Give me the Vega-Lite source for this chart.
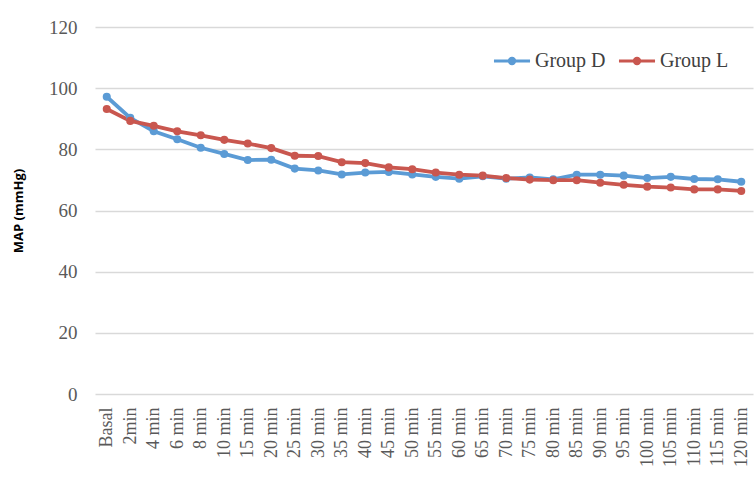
{
  "$schema": "https://vega.github.io/schema/vega-lite/v6.json",
  "width": 658,
  "height": 367,
  "autosize": {"type": "none"},
  "padding": {"left": 95, "top": 27, "right": 2, "bottom": 90},
  "background": "white",
  "config": {
    "view": {"stroke": null},
    "axis": {
      "labelFont": "Liberation Serif",
      "labelColor": "#595959",
      "gridColor": "#d9d9d9",
      "gridWidth": 1.5,
      "domain": false,
      "ticks": false
    }
  },
  "data": {
    "values": [
      {"time": "Basal", "group": "Group D", "map": 97.2},
      {"time": "2min", "group": "Group D", "map": 90.3},
      {"time": "4 min", "group": "Group D", "map": 85.9},
      {"time": "6 min", "group": "Group D", "map": 83.3},
      {"time": "8 min", "group": "Group D", "map": 80.5},
      {"time": "10 min", "group": "Group D", "map": 78.5},
      {"time": "15 min", "group": "Group D", "map": 76.5},
      {"time": "20 min", "group": "Group D", "map": 76.6},
      {"time": "25 min", "group": "Group D", "map": 73.7},
      {"time": "30 min", "group": "Group D", "map": 73.1},
      {"time": "35 min", "group": "Group D", "map": 71.8},
      {"time": "40 min", "group": "Group D", "map": 72.4},
      {"time": "45 min", "group": "Group D", "map": 72.6},
      {"time": "50 min", "group": "Group D", "map": 71.8},
      {"time": "55 min", "group": "Group D", "map": 71.0},
      {"time": "60 min", "group": "Group D", "map": 70.4},
      {"time": "65 min", "group": "Group D", "map": 71.2},
      {"time": "70 min", "group": "Group D", "map": 70.4},
      {"time": "75 min", "group": "Group D", "map": 70.8},
      {"time": "80 min", "group": "Group D", "map": 70.2},
      {"time": "85 min", "group": "Group D", "map": 71.7},
      {"time": "90 min", "group": "Group D", "map": 71.7},
      {"time": "95 min", "group": "Group D", "map": 71.4},
      {"time": "100 min", "group": "Group D", "map": 70.6},
      {"time": "105 min", "group": "Group D", "map": 71.0},
      {"time": "110 min", "group": "Group D", "map": 70.3},
      {"time": "115 min", "group": "Group D", "map": 70.2},
      {"time": "120 min", "group": "Group D", "map": 69.4},
      {"time": "Basal", "group": "Group L", "map": 93.2},
      {"time": "2min", "group": "Group L", "map": 89.3},
      {"time": "4 min", "group": "Group L", "map": 87.7},
      {"time": "6 min", "group": "Group L", "map": 85.9},
      {"time": "8 min", "group": "Group L", "map": 84.6},
      {"time": "10 min", "group": "Group L", "map": 83.1},
      {"time": "15 min", "group": "Group L", "map": 81.9},
      {"time": "20 min", "group": "Group L", "map": 80.4},
      {"time": "25 min", "group": "Group L", "map": 77.9},
      {"time": "30 min", "group": "Group L", "map": 77.8},
      {"time": "35 min", "group": "Group L", "map": 75.8},
      {"time": "40 min", "group": "Group L", "map": 75.5},
      {"time": "45 min", "group": "Group L", "map": 74.1},
      {"time": "50 min", "group": "Group L", "map": 73.5},
      {"time": "55 min", "group": "Group L", "map": 72.4},
      {"time": "60 min", "group": "Group L", "map": 71.7},
      {"time": "65 min", "group": "Group L", "map": 71.4},
      {"time": "70 min", "group": "Group L", "map": 70.6},
      {"time": "75 min", "group": "Group L", "map": 70.1},
      {"time": "80 min", "group": "Group L", "map": 69.9},
      {"time": "85 min", "group": "Group L", "map": 69.9},
      {"time": "90 min", "group": "Group L", "map": 69.1},
      {"time": "95 min", "group": "Group L", "map": 68.4},
      {"time": "100 min", "group": "Group L", "map": 67.8},
      {"time": "105 min", "group": "Group L", "map": 67.5},
      {"time": "110 min", "group": "Group L", "map": 66.9},
      {"time": "115 min", "group": "Group L", "map": 66.9},
      {"time": "120 min", "group": "Group L", "map": 66.4}
    ]
  },
  "mark": {"type": "line", "strokeWidth": 3.8, "point": {"filled": true, "size": 65, "opacity": 1}},
  "encoding": {
    "x": {
      "field": "time",
      "type": "ordinal",
      "sort": null,
      "scale": {"type": "point", "padding": 0.5},
      "axis": {
        "title": null,
        "grid": false,
        "labelAngle": -90,
        "labelFontSize": 18,
        "labelPadding": 13
      }
    },
    "y": {
      "field": "map",
      "type": "quantitative",
      "scale": {"domain": [0, 120], "nice": false},
      "axis": {
        "title": "MAP (mmHg)",
        "titleFont": "Open Sans",
        "titleFontWeight": "bold",
        "titleFontSize": 13,
        "titleColor": "#000000",
        "titlePadding": 23,
        "values": [0, 20, 40, 60, 80, 100, 120],
        "labelFontSize": 19,
        "labelPadding": 18
      }
    },
    "color": {
      "field": "group",
      "type": "nominal",
      "scale": {"domain": ["Group D", "Group L"], "range": ["#5B9BD5", "#C9574F"]},
      "legend": {
        "title": null,
        "orient": "none",
        "legendX": 397,
        "legendY": 14,
        "direction": "horizontal",
        "padding": 0,
        "symbolType": "M-1,0L1,0M-0.15,0A0.15,0.15 0 1,1 0.15,0A0.15,0.15 0 1,1 -0.15,0Z",
        "symbolSize": 1300,
        "symbolStrokeWidth": 3,
        "labelFont": "Liberation Serif",
        "labelFontSize": 20,
        "labelColor": "#404040",
        "labelOffset": 3,
        "columnPadding": 6,
        "encode": {"symbols": {"update": {"fill": {"scale": "color", "field": "value"}, "opacity": {"value": 1}}}}
      }
    }
  }
}
